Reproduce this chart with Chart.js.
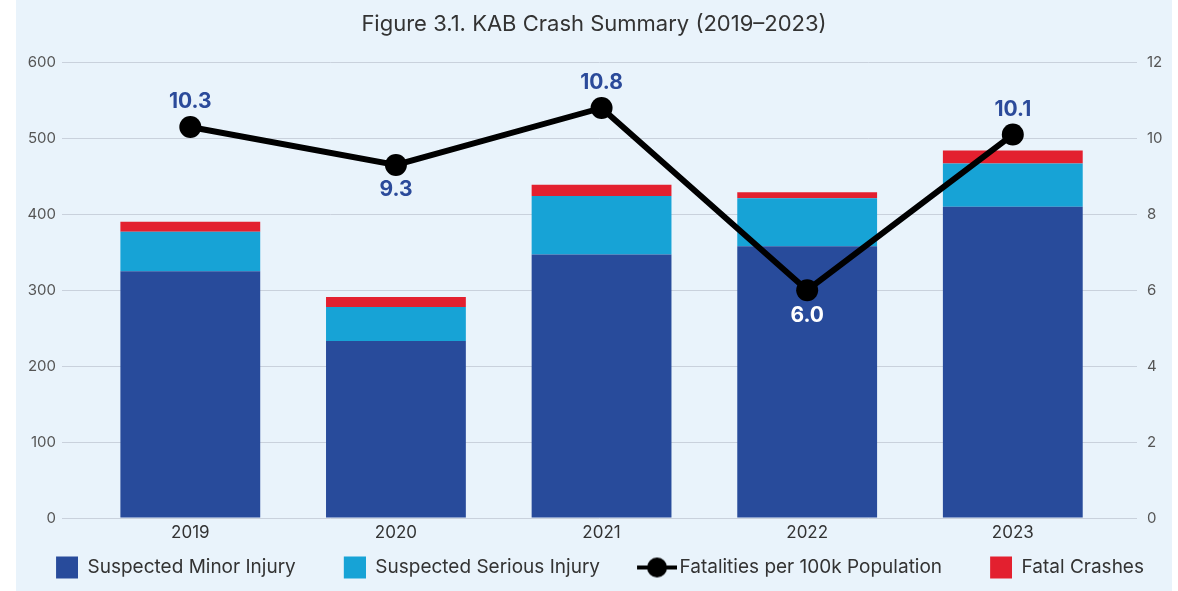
<!DOCTYPE html>
<html>
<head>
    <meta charset="utf-8" />
    <title>KAB Crash Summary</title>
    <script src="https://cdn.jsdelivr.net/npm/chart.js@4.4.0/dist/chart.umd.min.js"></script>
    <style type="text/css">
        body {
            margin: 0;
            background: #ffffff;
        }
        #panel {
            position: absolute;
            left: 16px;
            top: 0;
            width: 1156px;
            height: 591px;
            background: #e9f3fb;
        }
    </style>
</head>
<body>

    <div id="panel"><canvas id="crashChart"></canvas></div>

    <script>
        // values
        var years = [2019, 2020, 2021, 2022, 2023];
        var minorInjury = [325, 233, 347, 358, 410];
        var seriousInjury = [52, 45, 77, 63, 57];
        var fatalCrashes = [13, 13, 15, 8, 17];
        var fatalityRate = [10.3, 9.3, 10.8, 6.0, 10.1];
        var rateLabels = ['10.3', '9.3', '10.8', '6.0', '10.1'];

        var navy = '#284b9b';
        var cyan = '#17a3d6';
        var red = '#e3202f';
        var fontName = 'Inter, "Noto Sans", sans-serif';

        function toPoints(vals) {
            return years.map(function (yr, i) { return { x: yr, y: vals[i] }; });
        }

        // legend markers: all the same box width, mark pushed to the right side
        var markW = 56;
        function squareMark(color) {
            var c = document.createElement('canvas');
            c.width = markW; c.height = 24;
            var g = c.getContext('2d');
            g.fillStyle = color;
            g.fillRect(markW - 22, 1, 22, 22);
            return c;
        }
        function lineMark() {
            // wider than the box, centred on it, so the line can run up to the text
            var c = document.createElement('canvas');
            c.width = 70; c.height = 24;
            var g = c.getContext('2d');
            g.strokeStyle = '#000';
            g.lineWidth = 4;
            g.beginPath();
            g.moveTo(30, 12);
            g.lineTo(70, 12);
            g.stroke();
            g.fillStyle = '#000';
            g.beginPath();
            g.arc(50, 12, 10, 0, Math.PI * 2);
            g.fill();
            return c;
        }
        var marks = [squareMark(navy), squareMark(cyan), lineMark(), squareMark(red)];

        var rateLabelPlugin = {
            id: 'rateLabels',
            afterLayout: function (chart) {
                // nudge the legend row a little to the left and up
                chart.legend.left -= 11;
                chart.legend.right -= 11;
                chart.legend.top -= 2;
                chart.legend.bottom -= 2;
            },
            afterDatasetsDraw: function (chart) {
                var meta = chart.getDatasetMeta(2);
                var ctx = chart.ctx;
                var below = [false, true, false, true, false];
                ctx.save();
                ctx.font = 'bold 21px ' + fontName;
                ctx.textAlign = 'center';
                ctx.textBaseline = 'middle';
                meta.data.forEach(function (pt, i) {
                    ctx.fillStyle = (i === 3) ? '#ffffff' : '#2b4a9a';
                    ctx.fillText(rateLabels[i], pt.x, pt.y + (below[i] ? 25 : -25));
                });
                ctx.restore();
            }
        };

        var ctx = document.getElementById('crashChart').getContext('2d');

        var myChart = new Chart(ctx, {
            data: {
                datasets: [{
                    type: 'bar',
                    label: 'Suspected Minor Injury',
                    data: toPoints(minorInjury),
                    backgroundColor: navy,
                    yAxisID: 'y',
                    order: 1
                },
                {
                    type: 'bar',
                    label: 'Suspected Serious Injury',
                    data: toPoints(seriousInjury),
                    backgroundColor: cyan,
                    yAxisID: 'y',
                    order: 1
                },
                {
                    type: 'line',
                    label: 'Fatalities per 100k Population',
                    data: toPoints(fatalityRate),
                    borderColor: '#000000',
                    backgroundColor: '#000000',
                    borderWidth: 6,
                    pointRadius: 11,
                    pointHoverRadius: 11,
                    pointBackgroundColor: '#000000',
                    pointBorderWidth: 0,
                    yAxisID: 'y1',
                    order: 0
                },
                {
                    type: 'bar',
                    label: 'Fatal Crashes',
                    data: toPoints(fatalCrashes),
                    backgroundColor: red,
                    yAxisID: 'y',
                    order: 1
                }
                ]
            },
            options: {
                responsive: true,
                maintainAspectRatio: false,
                animation: false,
                layout: {
                    padding: { left: 0, right: 0, top: 0, bottom: 2 }
                },
                datasets: {
                    bar: {
                        barPercentage: 0.68,
                        categoryPercentage: 1
                    }
                },
                plugins: {
                    title: {
                        display: true,
                        text: 'Figure 3.1. KAB Crash Summary (2019\u20132023)',
                        color: '#333333',
                        font: { family: fontName, size: 22, weight: 'normal' },
                        padding: { top: 11, bottom: 25 }
                    },
                    legend: {
                        position: 'bottom',
                        sort: function (a, b) { return a.datasetIndex - b.datasetIndex; },
                        labels: {
                            usePointStyle: true,
                            pointStyleWidth: markW,
                            boxHeight: 19,
                            padding: 14,
                            color: '#333333',
                            font: { family: fontName, size: 19 },
                            generateLabels: function (chart) {
                                return chart.data.datasets.map(function (ds, i) {
                                    return {
                                        text: ds.label,
                                        datasetIndex: i,
                                        pointStyle: marks[i],
                                        fillStyle: 'transparent',
                                        strokeStyle: 'transparent',
                                        lineWidth: 0,
                                        fontColor: '#333333',
                                        hidden: false
                                    };
                                });
                            }
                        }
                    },
                    tooltip: { enabled: false }
                },
                scales: {
                    x: {
                        type: 'linear',
                        stacked: true,
                        offset: false,
                        min: 2018.376,
                        max: 2023.604,
                        grid: { display: false, drawTicks: false },
                        border: { display: false },
                        afterBuildTicks: function (scale) {
                            scale.ticks = years.map(function (v) { return { value: v }; });
                        },
                        afterFit: function (scale) { scale.height = 28; },
                        ticks: {
                            padding: 5,
                            color: '#333333',
                            font: { family: fontName, size: 17 },
                            callback: function (v) { return String(v); }
                        }
                    },
                    y: {
                        position: 'left',
                        stacked: true,
                        min: 0,
                        max: 600,
                        afterFit: function (scale) { scale.width = 46; },
                        ticks: {
                            stepSize: 100,
                            padding: 6,
                            color: '#555555',
                            font: { family: fontName, size: 15 }
                        },
                        grid: { color: '#c9d1dc', drawTicks: false },
                        border: { display: false }
                    },
                    y1: {
                        position: 'right',
                        min: 0,
                        max: 12,
                        afterFit: function (scale) { scale.width = 35; },
                        ticks: {
                            stepSize: 2,
                            padding: 10,
                            color: '#555555',
                            font: { family: fontName, size: 15 }
                        },
                        grid: { display: false, drawTicks: false },
                        border: { display: false }
                    }
                }
            },
            plugins: [rateLabelPlugin]
        });
    </script>
</body>
</html>
